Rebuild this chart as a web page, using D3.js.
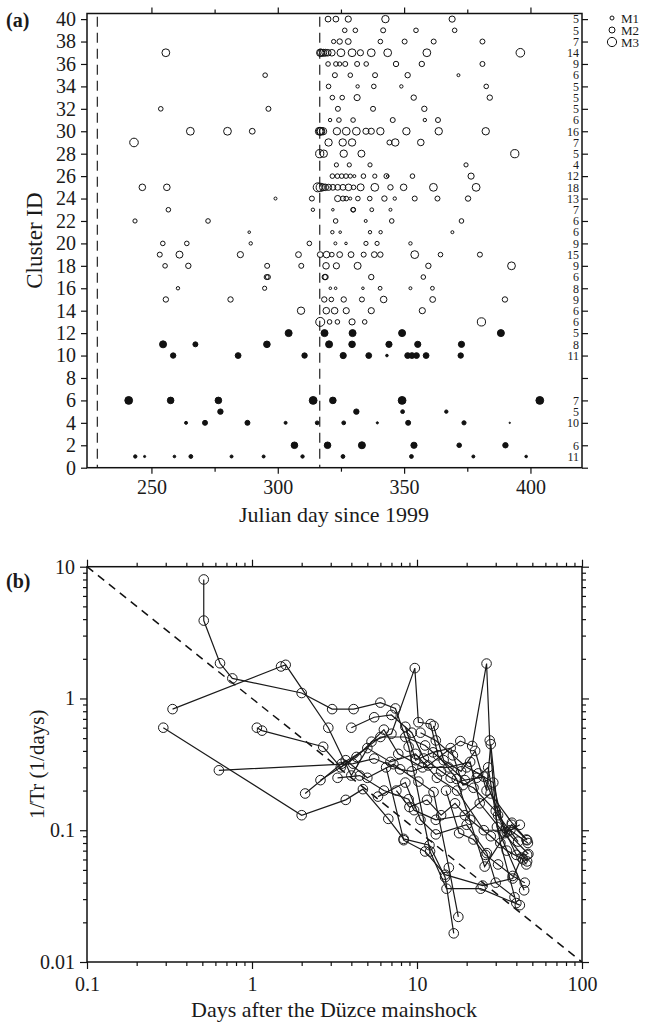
<!DOCTYPE html>
<html><head><meta charset="utf-8">
<script src="https://cdn.jsdelivr.net/npm/d3@7"></script>
<style>
body{margin:0;background:#fff}
svg{display:block}
text{font-family:"Liberation Serif","Times New Roman",serif;fill:#1a1a1a}
</style>
</head><body>
<svg id="c" width="646" height="1022"></svg>
<script>
// ---------- Panel (a) data ----------
const rowIds = [40,39,38,37,36,35,34,33,32,31,30,29,28,27,26,25,24,23,22,21,20,19,18,17,16,15,14,13,12,11,10,6,5,4,2,1];
const rowCounts = [5,5,7,14,9,6,5,5,5,6,16,7,5,4,12,18,13,7,6,6,9,15,9,6,8,9,6,6,5,8,11,7,5,10,6,11];
const rowDays = [
 [319.9,323.0,327.9,342.6,369.0],
 [326.5,330.7,341.7,354.7,370.0],
 [322.1,324.5,327.9,340.6,350.2,361.7,381.0],
 [255.7,316.8,317.2,318.0,318.8,319.8,321.4,325.0,329.4,332.7,337.0,343.5,359.0,396.0],
 [319.9,323.0,324.5,326.7,331.4,335.0,346.8,357.0,381.0],
 [295.0,322.6,328.7,338.5,351.4,371.5],
 [320.1,331.6,338.0,348.9,382.5],
 [321.6,325.5,331.4,353.8,383.9],
 [253.7,296.3,323.8,337.7,358.0],
 [320.7,324.2,329.8,345.5,358.2,363.4],
 [265.4,280.1,289.9,316.4,316.8,317.1,317.9,323.4,327.1,331.1,334.9,337.0,340.6,350.9,363.7,382.3],
 [243.1,320.1,325.7,329.4,344.2,346.5,356.6],
 [316.6,318.2,326.1,333.1,393.8],
 [323.2,328.3,336.5,374.5],
 [321.6,323.6,325.3,327.0,328.7,330.3,333.9,338.4,343.0,343.5,353.3,376.5],
 [246.4,256.1,315.8,316.8,317.9,318.8,320.1,321.8,323.7,325.8,328.0,330.0,332.8,338.4,344.6,349.8,361.6,378.5],
 [299.1,313.5,323.7,325.8,327.1,328.7,331.7,336.4,342.2,346.3,354.2,363.2,375.3],
 [256.7,313.9,321.8,329.8,329.9,337.2,344.6],
 [243.5,272.4,322.9,334.8,345.1,372.7],
 [288.7,321.6,324.7,336.5,340.7,369.1],
 [254.5,264.0,289.3,312.5,322.8,327.0,334.9,339.3,352.5],
 [253.3,261.1,285.2,308.2,316.8,319.3,321.4,324.5,329.0,334.0,338.2,340.6,354.2,364.4,380.0],
 [255.4,264.6,295.8,309.3,319.1,323.2,331.6,359.6,392.5],
 [295.6,296.1,318.6,318.9,337.0,357.6],
 [260.5,294.8,320.8,322.9,333.7,340.5,352.5,361.2],
 [255.7,281.3,318.4,321.2,326.1,333.3,341.9,361.3,389.9],
 [309.2,319.2,322.5,327.1,337.0,357.2],
 [316.8,320.5,323.6,329.4,334.4,380.6],
 [304.3,318.5,329.6,349.2,388.3],
 [254.6,267.4,295.7,320.3,329.4,344.0,355.4,372.7],
 [258.6,284.3,310.6,325.9,336.0,343.2,351.4,353.1,354.9,358.7,372.4],
 [241.0,257.6,276.5,314.0,321.8,349.2,403.7],
 [277.3,331.1,349.4,366.7],
 [263.7,271.2,288.0,303.1,315.6,326.1,339.4,351.6,373.7,391.8],
 [306.6,319.7,333.3,353.9,371.8,390.1],
 [243.6,247.3,259.1,265.6,281.7,294.4,309.8,325.8,352.9,377.4,398.3]
];
const rowMags = [
 [2.1,2.1,2.2,2.5,2.2],
 [1.8,1.8,1.9,1.8,1.8],
 [1.7,2.0,2.1,1.8,1.9,1.9,1.9],
 [2.6,2.5,2.5,2.4,2.4,2.3,2.3,2.6,2.6,2.2,2.6,2.6,2.6,2.8],
 [1.8,1.8,1.7,1.9,1.9,1.8,2.0,2.0,1.9],
 [1.8,1.9,1.8,1.9,2.0,1.4],
 [1.8,1.5,1.8,1.5,1.8],
 [1.8,1.8,2.2,2.0,2.0],
 [1.8,1.9,1.9,1.9,2.0],
 [1.5,1.8,1.8,1.9,1.5,1.9],
 [2.6,2.6,2.1,2.6,2.6,2.6,2.5,2.5,2.6,2.6,2.2,2.2,2.5,2.5,2.5,2.5],
 [2.8,2.5,2.5,2.5,1.9,2.5,2.3],
 [2.7,2.5,2.5,2.4,2.7],
 [1.7,1.7,1.7,1.7],
 [1.8,1.8,1.8,1.8,1.7,1.4,1.8,1.7,1.9,1.3,1.8,2.2],
 [2.3,2.3,2.9,2.7,2.4,2.3,2.2,2.1,2.1,2.1,2.3,1.8,2.4,2.6,2.0,2.3,2.6,2.6],
 [1.4,1.9,2.2,1.9,1.8,1.4,1.8,1.8,2.0,1.5,1.9,1.9,2.0],
 [1.8,1.5,1.3,1.8,1.8,1.6,1.4],
 [1.7,1.8,1.8,1.4,1.8,1.8],
 [1.3,1.5,1.3,1.5,1.5,1.4],
 [1.8,1.8,1.5,1.8,1.4,1.3,1.7,1.7,1.5],
 [1.9,2.4,2.2,2.1,2.1,2.3,1.8,2.1,2.1,1.9,2.1,2.0,2.6,1.8,1.9],
 [1.8,2.0,1.9,1.9,2.3,2.2,2.4,2.0,2.6],
 [1.9,1.9,2.0,2.0,2.0,1.8],
 [1.5,1.7,1.3,1.3,1.3,1.6,1.4,1.6],
 [2.0,2.0,2.0,1.8,2.0,1.9,2.3,2.1,2.0],
 [2.5,2.3,2.3,2.2,2.2,2.2],
 [2.9,1.8,1.8,2.2,1.8,2.7],
 [2.4,2.4,2.4,2.4,2.4],
 [2.4,1.9,2.3,2.4,2.3,2.2,2.2,2.2],
 [2.0,2.1,2.0,2.2,2.1,1.3,2.1,2.1,2.1,2.1,2.0],
 [2.6,2.3,2.3,2.6,2.3,2.6,2.6],
 [2.0,2.0,1.6,1.5],
 [1.4,1.9,1.9,1.4,1.6,1.6,1.2,1.9,1.7,1.0],
 [2.3,2.3,2.4,2.2,1.8,2.0],
 [1.5,1.2,1.3,1.6,1.4,1.4,1.5,1.6,1.6,1.4,1.3]
];
const filledMaxId = 12;
const quakeDays = [228.6, 316.6];
const xTicksA = [250,300,350,400];
const xMinorA = [275,325,375];
const legendLabels = ["M1","M2","M3"];
const legendMags = [1.65,2.15,2.95];

// ---------- Panel (b) data ----------
const seqB = [
 [[0.51,8.0],[0.51,3.9],[0.64,1.85],[0.76,1.42],[2.0,1.1],[3.06,0.83],[4.13,0.83],[6.0,0.93],[7.4,0.84],[8.9,0.43],[12.0,0.069],[15.1,0.036],[24.3,0.036],[42,0.027]],
 [[0.33,0.83],[1.5,1.75],[1.6,1.8],[2.9,0.6],[4.0,0.26],[5.3,0.47],[7.0,0.54],[9.7,1.7],[10.2,0.66],[12.1,0.64],[13.4,0.37],[17.4,0.245],[25.7,0.053],[37.5,0.11],[46,0.085]],
 [[0.29,0.6],[2.0,0.13],[3.7,0.17],[4.7,0.205],[6.7,0.122],[8.3,0.086],[11.9,0.077],[14.8,0.044],[16.7,0.0165]],
 [[0.63,0.285],[4.1,0.32],[5.5,0.35],[7.9,0.29],[9.3,0.28],[11.7,0.31],[18.3,0.475],[21.6,0.436],[26.4,1.84],[27.6,0.48],[30.5,0.106],[44.6,0.035]],
 [[1.07,0.6],[1.15,0.57],[2.7,0.43],[3.45,0.30],[6.0,0.51],[8.5,0.51],[11.2,0.44],[19.5,0.24],[25.4,0.255],[35,0.097],[47.3,0.066]],
 [[2.1,0.19],[3.7,0.34],[5.0,0.25],[7.2,0.317],[10.2,0.234],[12.6,0.195],[15.6,0.052],[17.8,0.022]],
 [[3.3,0.25],[4.5,0.26],[6.3,0.2],[8.9,0.172],[9.6,0.142],[13,0.12],[19.5,0.13],[27.9,0.19],[37.6,0.114],[46.5,0.084]],
 [[4.0,0.6],[5.5,0.72],[7.0,0.75],[9.3,0.55],[11,0.35],[14,0.28],[16,0.25],[22,0.21],[30,0.14],[40,0.065],[46.5,0.065]],
 [[5.8,0.18],[8.5,0.23],[10.5,0.12],[13,0.093],[20,0.11],[26.5,0.067],[30,0.04],[39,0.031]],
 [[6.5,0.3],[8.3,0.084],[11.2,0.069],[14.8,0.046],[25,0.038],[38,0.043],[43,0.062],[46,0.055]],
 [[3.5,0.32],[5.0,0.42],[6.9,0.33],[9.8,0.38],[13.2,0.25],[17.5,0.2],[25.4,0.1],[36.8,0.1],[47,0.08]],
 [[12.6,0.62],[14.5,0.34],[18.5,0.28],[22.5,0.4],[26.4,0.2],[28,0.45],[31,0.13],[41,0.082]],
 [[2.6,0.24],[4.3,0.36],[6.3,0.58],[7.7,0.38],[10.8,0.3],[15.5,0.3],[21,0.33],[24,0.16],[33,0.098],[46.5,0.058]],
 [[8.5,0.61],[9.8,0.34],[12.5,0.39],[16,0.42],[19,0.22],[23,0.25],[27,0.3],[32,0.08],[40,0.028]],
 [[7.5,0.2],[9.0,0.15],[11.5,0.17],[14,0.13],[17,0.16],[21,0.12],[28,0.09],[35,0.07],[44,0.06]],
 [[10.5,0.55],[13,0.48],[16.5,0.37],[20,0.3],[23.5,0.27],[29,0.23],[34,0.095],[42,0.11]],
 [[15,0.2],[18,0.095],[22,0.085],[26,0.065],[31,0.055],[38,0.045],[45,0.04]]
];
const xTicksB = [0.1,1,10,100];
const yTicksB = [0.01,0.1,1,10];

// ---------- Drawing ----------
const svg = d3.select("#c");
const ink = "#111";

const xA = d3.scaleLinear().domain([224.5,420.4]).range([87,582]);
const yA = d3.scaleLinear().domain([0,40.5]).range([467.7,13.5]);
const rA = d3.scaleLinear().domain([1,3]).range([0.7,4.7]);

const gA = svg.append("g");
function styleAxis(g){
  g.select(".domain").remove();
  g.selectAll(".tick line").attr("stroke",ink).attr("stroke-width",1.2);
  g.selectAll(".tick text").attr("font-size",20).attr("font-family","Liberation Serif, serif").attr("fill","#1a1a1a");
}
const yBotA = yA(0), yTopA = yA(40.5);
gA.append("g").attr("transform",`translate(0,${yBotA})`)
  .call(d3.axisBottom(xA).tickValues(xTicksA).tickSize(6).tickPadding(6).tickFormat(d3.format("d"))).call(styleAxis);
gA.append("g").attr("transform",`translate(0,${yBotA})`)
  .call(d3.axisBottom(xA).tickValues(xMinorA).tickSize(4).tickFormat("")).call(styleAxis);
gA.append("g").attr("transform",`translate(0,${yTopA})`)
  .call(d3.axisTop(xA).tickValues(xTicksA).tickSize(6).tickFormat("")).call(styleAxis);
gA.append("g").attr("transform",`translate(0,${yTopA})`)
  .call(d3.axisTop(xA).tickValues(xMinorA).tickSize(4).tickFormat("")).call(styleAxis);
gA.append("g").attr("transform","translate(87,0)")
  .call(d3.axisLeft(yA).tickValues(d3.range(0,41,2)).tickSize(6).tickPadding(5)).call(styleAxis);
gA.append("g").attr("transform","translate(582,0)")
  .call(d3.axisRight(yA).tickValues(d3.range(0,41,2)).tickSize(6).tickFormat("")).call(styleAxis);

gA.selectAll("line.q").data(quakeDays).join("line")
  .attr("x1",d=>xA(d)).attr("x2",d=>xA(d)).attr("y1",yA(40.2)).attr("y2",yBotA)
  .attr("stroke","#333").attr("stroke-width",1.3).attr("stroke-dasharray","10,6");

const events = [];
rowIds.forEach((id,i)=>rowDays[i].forEach((d,j)=>events.push({id, day:d, m:rowMags[i][j]})));
gA.selectAll("circle.ev").data(events).join("circle")
  .attr("cx",d=>xA(d.day)).attr("cy",d=>yA(d.id)).attr("r",d=>rA(d.m))
  .attr("fill",d=>d.id<=filledMaxId?ink:"none").attr("stroke",ink).attr("stroke-width",1);

gA.selectAll("text.cnt").data(rowIds).join("text")
  .attr("x",579).attr("y",d=>yA(d)+4.3).attr("text-anchor","end")
  .attr("font-size",12).attr("fill","#333").text((d,i)=>rowCounts[i]);

gA.append("rect").attr("x",87).attr("y",yTopA).attr("width",495).attr("height",yBotA-yTopA)
  .attr("fill","none").attr("stroke",ink).attr("stroke-width",1.5);

legendLabels.forEach((lab,i)=>{
  const cy = [18,30,42][i];
  gA.append("circle").attr("cx",612).attr("cy",cy).attr("r",rA(legendMags[i])).attr("fill","none").attr("stroke",ink).attr("stroke-width",1);
  gA.append("text").attr("x",621).attr("y",cy+4.5).attr("font-size",13).text(lab);
});

gA.append("text").attr("x",6).attr("y",27).attr("font-size",20).attr("font-weight","bold").text("(a)");
gA.append("text").attr("transform",`translate(42,${(yBotA+yTopA)/2}) rotate(-90)`).attr("text-anchor","middle")
  .attr("font-size",23).text("Cluster ID");
gA.append("text").attr("x",334).attr("y",522).attr("text-anchor","middle").attr("font-size",22).text("Julian day since 1999");

// Panel (b)
const xB = d3.scaleLog().domain([0.1,100]).range([87,582]);
const yB = d3.scaleLog().domain([0.01,10]).range([962,566.7]);
const gB = svg.append("g");
const minorX = [], minorY = [];
[0.1,1,10].forEach(b=>{for(let k=2;k<=9;k++) minorX.push(b*k);});
[0.01,0.1,1].forEach(b=>{for(let k=2;k<=9;k++) minorY.push(b*k);});
const fmt = d=> d>=1 ? String(d) : String(+d.toFixed(2));
gB.append("g").attr("transform","translate(0,962)")
  .call(d3.axisBottom(xB).tickValues(xTicksB).tickSize(7).tickPadding(8).tickFormat(fmt)).call(styleAxis);
gB.append("g").attr("transform","translate(0,962)")
  .call(d3.axisBottom(xB).tickValues(minorX).tickSize(4).tickFormat("")).call(styleAxis);
gB.append("g").attr("transform","translate(0,566.7)")
  .call(d3.axisTop(xB).tickValues(xTicksB).tickSize(7).tickFormat("")).call(styleAxis);
gB.append("g").attr("transform","translate(0,566.7)")
  .call(d3.axisTop(xB).tickValues(minorX).tickSize(4).tickFormat("")).call(styleAxis);
gB.append("g").attr("transform","translate(87,0)")
  .call(d3.axisLeft(yB).tickValues(yTicksB).tickSize(7).tickPadding(5).tickFormat(fmt)).call(styleAxis);
gB.append("g").attr("transform","translate(87,0)")
  .call(d3.axisLeft(yB).tickValues(minorY).tickSize(4).tickFormat("")).call(styleAxis);
gB.append("g").attr("transform","translate(582,0)")
  .call(d3.axisRight(yB).tickValues(yTicksB).tickSize(7).tickFormat("")).call(styleAxis);
gB.append("g").attr("transform","translate(582,0)")
  .call(d3.axisRight(yB).tickValues(minorY).tickSize(4).tickFormat("")).call(styleAxis);

gB.append("line").attr("x1",xB(0.1)).attr("y1",yB(10)).attr("x2",xB(100)).attr("y2",yB(0.01))
  .attr("stroke",ink).attr("stroke-width",1.5).attr("stroke-dasharray","8,6");

const line = d3.line().x(d=>xB(d[0])).y(d=>yB(d[1]));
gB.selectAll("path.seq").data(seqB).join("path")
  .attr("d",line).attr("fill","none").attr("stroke","#1a1a1a").attr("stroke-width",1.2);
gB.selectAll("circle.pt").data(seqB.flat()).join("circle")
  .attr("cx",d=>xB(d[0])).attr("cy",d=>yB(d[1])).attr("r",4.8)
  .attr("fill","none").attr("stroke","#1a1a1a").attr("stroke-width",1);

gB.append("rect").attr("x",87).attr("y",566.7).attr("width",495).attr("height",962-566.7)
  .attr("fill","none").attr("stroke",ink).attr("stroke-width",1.5);

gB.append("text").attr("x",6).attr("y",588).attr("font-size",20).attr("font-weight","bold").text("(b)");
gB.append("text").attr("transform",`translate(44,${(962+566.7)/2}) rotate(-90)`).attr("text-anchor","middle")
  .attr("font-size",21).text("1/Tr (1/days)");
gB.append("text").attr("x",334).attr("y",1017).attr("text-anchor","middle").attr("font-size",22).text("Days after the Düzce mainshock");
</script>
</body></html>
